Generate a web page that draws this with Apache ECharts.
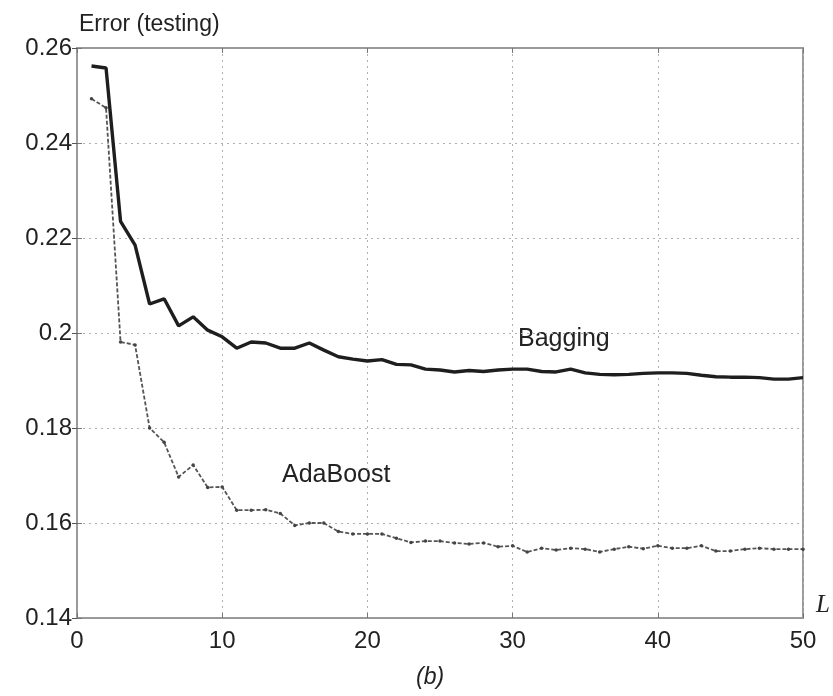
<!DOCTYPE html>
<html>
<head>
<meta charset="utf-8">
<script src="https://cdn.jsdelivr.net/npm/echarts@6/dist/echarts.min.js"></script>
<style>
    html, body { margin: 0; padding: 0; background: #fff; }
    #chart { width: 833px; height: 696px; }
</style>
</head>
<body>
<div id="chart"></div>
<script>
// number of classifiers L
let ensembleSize = [];
for (let i = 1; i <= 50; i++) ensembleSize.push(i);

// testing error
let bagging = [
    0.2562, 0.2558, 0.2235, 0.2185, 0.2061, 0.2072, 0.2015, 0.2034, 0.2006, 0.1992,
    0.1968, 0.1981, 0.1979, 0.1968, 0.1968, 0.1979, 0.1964, 0.1950, 0.1945, 0.1941,
    0.1944, 0.1934, 0.1933, 0.1924, 0.1922, 0.1918, 0.1921, 0.1919, 0.1922, 0.1924,
    0.1924, 0.1919, 0.1918, 0.1924, 0.1916, 0.1913, 0.1912, 0.1913, 0.1915, 0.1916,
    0.1916, 0.1915, 0.1911, 0.1908, 0.1907, 0.1907, 0.1906, 0.1903, 0.1903, 0.1906
];
let adaBoost = [
    0.2493, 0.2474, 0.1981, 0.1975, 0.1800, 0.1770, 0.1697, 0.1722, 0.1675, 0.1676,
    0.1627, 0.1627, 0.1628, 0.1620, 0.1595, 0.1600, 0.1600, 0.1582, 0.1577, 0.1577,
    0.1577, 0.1568, 0.1559, 0.1562, 0.1562, 0.1558, 0.1556, 0.1558, 0.1550, 0.1552,
    0.1539, 0.1547, 0.1543, 0.1547, 0.1545, 0.1539, 0.1545, 0.1550, 0.1546, 0.1552,
    0.1547, 0.1547, 0.1552, 0.1541, 0.1541, 0.1545, 0.1547, 0.1545, 0.1545, 0.1545
];

let font = '"Liberation Sans", Arial, sans-serif';
let frameColor = '#9a9a9a';
let textColor = '#222';

function pairs(ys) {
    return ensembleSize.map((x, i) => [x, ys[i]]);
}

let chart = echarts.init(document.getElementById('chart'));

let gridLine = {
    show: true,
    lineStyle: { color: '#b0b0b0', width: 1, type: [2, 4] }
};

let option = {
    animation: false,
    backgroundColor: '#fff',
    title: {
        text: 'Error (testing)',
        left: 74,
        top: 8,
        textStyle: { fontFamily: font, fontSize: 23, fontWeight: 'normal', color: textColor }
    },
    grid: {
        left: 77, right: 30, top: 48, bottom: 78,
        show: true,
        borderColor: frameColor,
        borderWidth: 2
    },
    xAxis: [
        {
            type: 'value',
            min: 0, max: 50, interval: 10,
            axisLine: { show: true, lineStyle: { color: frameColor, width: 2 } },
            axisTick: { show: true, inside: true, length: 5, lineStyle: { color: '#777' } },
            axisLabel: { fontFamily: font, fontSize: 24, color: textColor, margin: 11 },
            splitLine: gridLine
        },
        {
            type: 'value', position: 'top',
            min: 0, max: 50, interval: 10,
            axisLine: { show: true, lineStyle: { color: frameColor, width: 2 } },
            axisTick: { show: true, inside: true, length: 5, lineStyle: { color: '#777' } },
            axisLabel: { show: false },
            splitLine: { show: false }
        }
    ],
    yAxis: [
        {
            type: 'value',
            min: 0.14, max: 0.26, interval: 0.02,
            axisLine: { show: true, lineStyle: { color: frameColor, width: 2 } },
            axisTick: { show: true, inside: true, length: 5, lineStyle: { color: '#777' } },
            axisLabel: {
                fontFamily: font, fontSize: 24, color: textColor, margin: 5,
                formatter: v => String(+v.toFixed(2))
            },
            splitLine: gridLine
        },
        {
            type: 'value', position: 'right',
            min: 0.14, max: 0.26, interval: 0.02,
            axisLine: { show: true, lineStyle: { color: frameColor, width: 2 } },
            axisTick: { show: true, inside: true, length: 5, lineStyle: { color: '#555' } },
            axisLabel: { show: false },
            splitLine: { show: false }
        }
    ],
    series: [
        {
            name: 'AdaBoost',
            type: 'line',
            data: pairs(adaBoost),
            symbol: 'circle',
            symbolSize: 3.5,
            itemStyle: { color: '#444' },
            lineStyle: { color: '#555', width: 1.8, type: [4, 2] },
            z: 2
        },
        {
            name: 'Bagging',
            type: 'line',
            data: pairs(bagging),
            symbol: 'none',
            lineStyle: { color: '#1e1e1e', width: 3.4 },
            z: 3
        }
    ],
    graphic: [
        {
            type: 'text', left: 518, top: 327,
            style: { text: 'Bagging', font: '25px ' + font, fill: textColor }
        },
        {
            type: 'text', left: 282, top: 463,
            style: { text: 'AdaBoost', font: '25px ' + font, fill: textColor }
        },
        {
            type: 'text', left: 816, top: 593,
            style: { text: 'L', font: 'italic 25px "Liberation Serif", serif', fill: textColor }
        },
        {
            type: 'text', left: 416, top: 666,
            style: { text: '(b)', font: 'italic 23px ' + font, fill: textColor }
        }
    ]
};

chart.setOption(option);
</script>
</body>
</html>
